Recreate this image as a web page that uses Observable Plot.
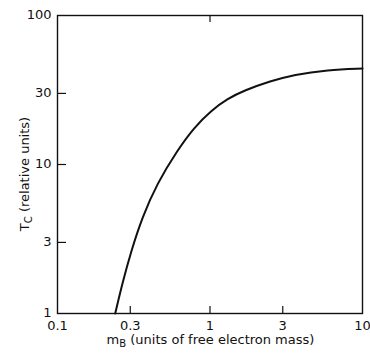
<!DOCTYPE html>
<html>
<head>
<meta charset="utf-8">
<script src="https://cdn.jsdelivr.net/npm/d3@7"></script>
<script src="https://cdn.jsdelivr.net/npm/@observablehq/plot@0.6"></script>
<style>
  html, body { margin: 0; padding: 0; background: #fff; }
  #chart svg { display: block; }
</style>
</head>
<body>
<div id="chart"></div>
<script>
// Data (m_B, T_C)
const massValues = [0.239, 0.266, 0.305, 0.359, 0.45, 0.609, 0.786, 1.015, 1.31, 1.67, 2.5, 3.54, 5.9, 10];
const tcValues   = [1.0,   1.59,  2.65,  4.41,  7.46, 12.4,  17.7,  23.0,  27.7, 31.4, 36.3, 40.1, 43.2, 44.1];

const xTickLabels = [0.1, 0.3, 1, 3, 10];
const yTickLabels = [1, 3, 10, 30, 100];
const xTicksBottom = [0.3, 1, 3];
const xTicksTop = [1];
const yTicksLeft = [3, 10, 30];

const xTitle = ["m", "B", " (units of free electron mass)"];
const yTitle = ["T", "C", " (relative units)"];

const data = massValues.map((m, i) => ({m, T: tcValues[i]}));

const W = 370, H = 353;
const mL = 57, mR = 8, mT = 15, mB = 40;
const innerW = W - mL - mR, innerH = H - mT - mB;
const font = "DejaVu Sans, Verdana, sans-serif";

const plot = Plot.plot({
  width: W, height: H,
  marginLeft: mL, marginRight: mR, marginTop: mT, marginBottom: mB,
  style: {fontFamily: font, fontSize: "13px", color: "#111", background: "#fff"},
  x: {type: "log", domain: [0.1, 10]},
  y: {type: "log", domain: [1, 100]},
  marks: [
    Plot.frame({stroke: "#111", strokeWidth: 1.4}),
    Plot.axisX({ticks: xTickLabels, tickSize: 0, tickPadding: 7, tickFormat: d => String(d), label: null}),
    Plot.axisY({ticks: yTickLabels, tickSize: 0, tickPadding: 6, dy: -1, tickFormat: d => String(d), label: null}),
    Plot.tickX(xTicksBottom, {x: d => d, insetTop: innerH - 7, stroke: "#111", strokeWidth: 1.2}),
    Plot.tickX(xTicksTop, {x: d => d, insetBottom: innerH - 7, stroke: "#111", strokeWidth: 1.2}),
    Plot.tickY(yTicksLeft, {y: d => d, insetRight: innerW - 9, stroke: "#111", strokeWidth: 1.2}),
    Plot.line(data, {x: "m", y: "T", curve: "basis", stroke: "#111", strokeWidth: 2})
  ]
});

document.getElementById("chart").appendChild(plot);

const svg = d3.select(plot);
// X axis title
const xt = svg.append("text")
  .attr("x", mL + innerW / 2 + 1)
  .attr("y", 344)
  .attr("text-anchor", "middle")
  .attr("font-family", font)
  .attr("font-size", 13)
  .attr("fill", "#111");
xt.append("tspan").text(xTitle[0]);
xt.append("tspan").attr("font-size", 10).attr("dy", 3).text(xTitle[1]);
xt.append("tspan").attr("dy", -3).text(xTitle[2]);

// Y axis title
const yt = svg.append("text")
  .attr("transform", `translate(29,${mT + innerH / 2 + 10}) rotate(-90)`)
  .attr("text-anchor", "middle")
  .attr("font-family", font)
  .attr("font-size", 13)
  .attr("fill", "#111");
yt.append("tspan").text(yTitle[0]);
yt.append("tspan").attr("font-size", 10).attr("dy", 3).text(yTitle[1]);
yt.append("tspan").attr("dy", -3).text(yTitle[2]);
</script>
</body>
</html>
